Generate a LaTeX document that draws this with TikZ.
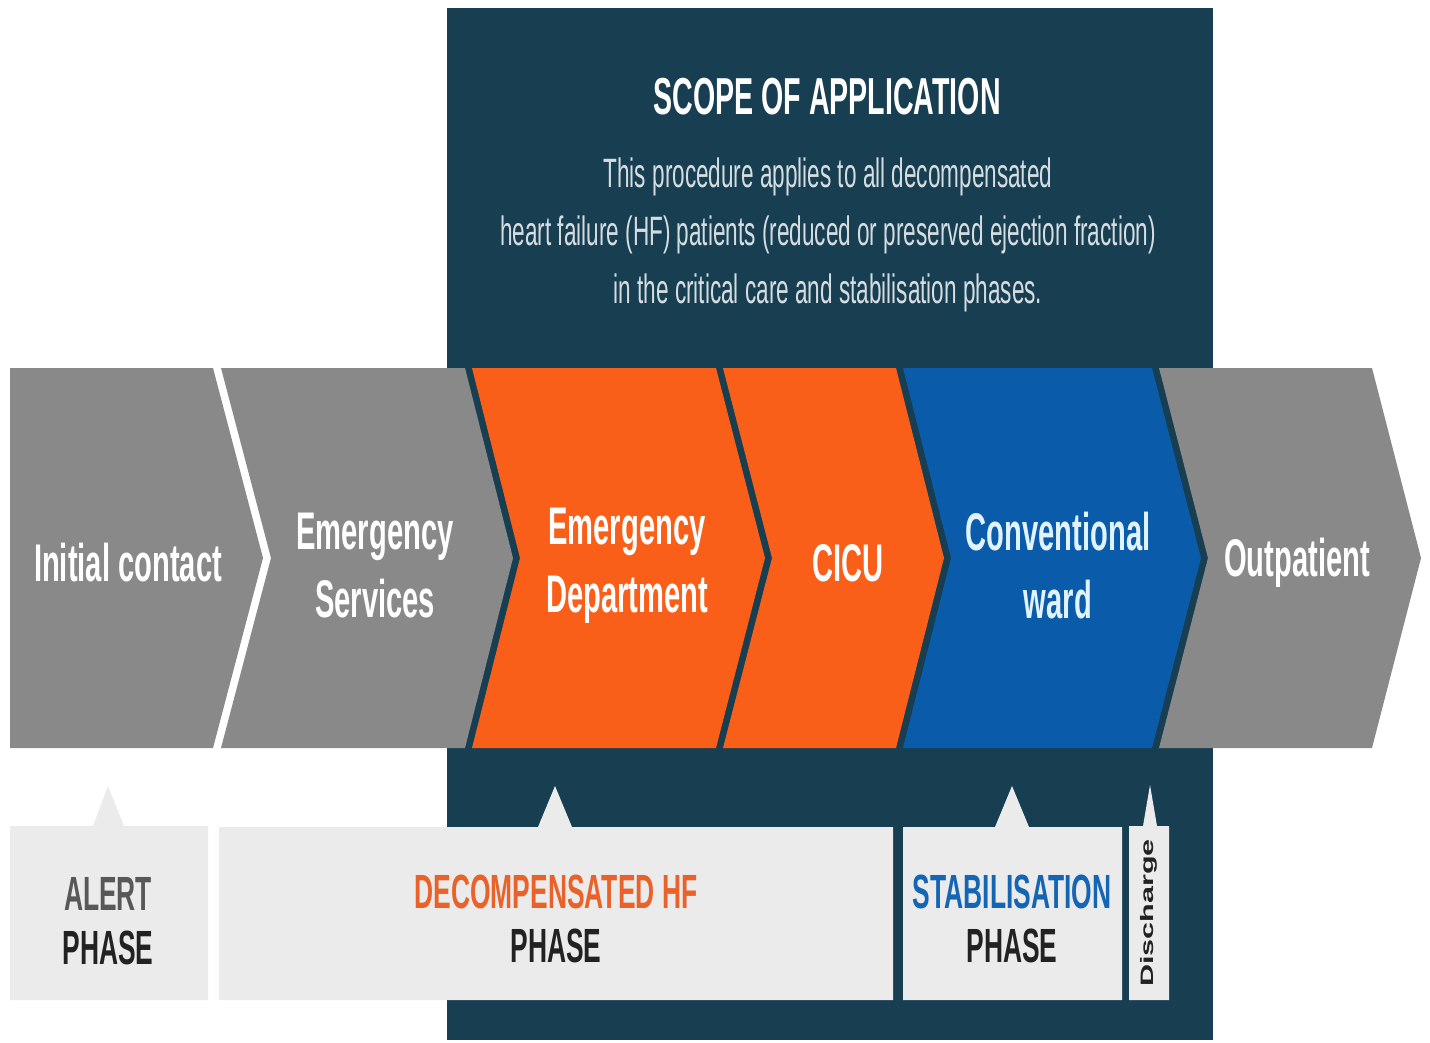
\documentclass[tikz,border=0pt]{standalone}
\usepackage{fontspec}
\newfontfamily\cnd[FakeStretch=0.55]{Liberation Sans}
\newfontfamily\widesans[FakeStretch=1.7]{Liberation Sans}
\definecolor{navy}{RGB}{23,62,81}
\definecolor{chevgray}{RGB}{137,137,137}
\definecolor{chevorange}{RGB}{250,95,25}
\definecolor{chevblue}{RGB}{10,92,170}
\definecolor{boxgray}{RGB}{235,235,235}
\definecolor{bodytext}{RGB}{214,221,225}
\definecolor{wardtext}{RGB}{225,243,255}
\definecolor{alertgray}{RGB}{88,88,88}
\definecolor{phasedark}{RGB}{34,34,34}
\definecolor{decorange}{RGB}{232,98,42}
\definecolor{stabblue}{RGB}{21,101,181}
\begin{document}
\begin{tikzpicture}[x=1pt,y=-1pt,
  chevtext/.style={text=white, align=center, inner sep=0pt,
    font=\cnd\bfseries\fontsize{53}{68}\selectfont},
  phasetext/.style={align=center, inner sep=0pt,
    font=\cnd\bfseries\fontsize{48}{54}\selectfont},
  phasebox/.style={fill=boxgray}]
\useasboundingbox (0,0) rectangle (1430,1043);
\fill[white] (0,0) rectangle (1430,1043);

% scope panel
\fill[navy] (447,8) rectangle (1213,1040);
\node[text=white, inner sep=0pt, font=\cnd\bfseries\fontsize{52}{60}\selectfont]
  (scopetitle) at (827,97) {SCOPE OF APPLICATION};
\node[text=bodytext, align=center, inner sep=0pt,
  font=\cnd\fontsize{41}{58}\selectfont] (scopebody) at (828,235)
  {This procedure applies to all decompensated\\
   heart failure (HF) patients (reduced or preserved ejection fraction)\\
   in the critical care and stabilisation phases.};

% care pathway chevrons
\fill[chevgray] (10,368) -- (213,368) -- (263,558) -- (213,748) -- (10,748) -- cycle;
\fill[chevgray] (221,368) -- (465,368) -- (513,558) -- (465,748) -- (221,748) -- (271,558) -- cycle;
\fill[chevorange] (472,368) -- (716,368) -- (765,558) -- (716,748) -- (472,748) -- (520,558) -- cycle;
\fill[chevorange] (723,368) -- (896,368) -- (944,558) -- (896,748) -- (723,748) -- (772,558) -- cycle;
\fill[chevblue] (903,368) -- (1152,368) -- (1201,558) -- (1152,748) -- (903,748) -- (951,558) -- cycle;
\fill[chevgray] (1159,368) -- (1372,368) -- (1421,558) -- (1372,748) -- (1159,748) -- (1208,558) -- cycle;

\node[chevtext] (initial) at (128,563) {Initial contact};
\node[chevtext] (emserv) at (375,566) {Emergency\\Services};
\node[chevtext] (emdept) at (627,566) {Emergency\\Department};
\node[chevtext] (cicu) at (848,563) {CICU};
\node[chevtext, text=wardtext] (ward) at (1058,566) {Conventional\\ward};
\node[chevtext] (outpat) at (1297,563) {Outpatient};

% phase call-outs
\fill[phasebox] (10,826) -- (93,826) -- (108,786) -- (124,826) -- (208,826)
  -- (208,1000) -- (10,1000) -- cycle;
\fill[phasebox] (219,827) -- (538,827) -- (555,786) -- (572,827) -- (893,827)
  -- (893,1000) -- (219,1000) -- cycle;
\fill[phasebox] (903,827) -- (995,827) -- (1012,786) -- (1029,827) -- (1122,827)
  -- (1122,1000) -- (903,1000) -- cycle;
\fill[phasebox] (1129,826) -- (1143,826) -- (1150,785) -- (1157,826) -- (1169,826)
  -- (1169,1000) -- (1129,1000) -- cycle;

\node[phasetext] (alert) at (108,921)
  {\textcolor{alertgray}{ALERT}\\\textcolor{phasedark}{PHASE}};
\node[phasetext] (decomp) at (556,919)
  {\textcolor{decorange}{DECOMPENSATED HF}\\\textcolor{phasedark}{PHASE}};
\node[phasetext] (stab) at (1012,919)
  {\textcolor{stabblue}{STABILISATION}\\\textcolor{phasedark}{PHASE}};
\node[rotate=90, inner sep=0pt, text=phasedark,
  font=\widesans\bfseries\fontsize{18}{20}\selectfont] (discharge) at (1149,913) {Discharge};
\end{tikzpicture}
\end{document}
